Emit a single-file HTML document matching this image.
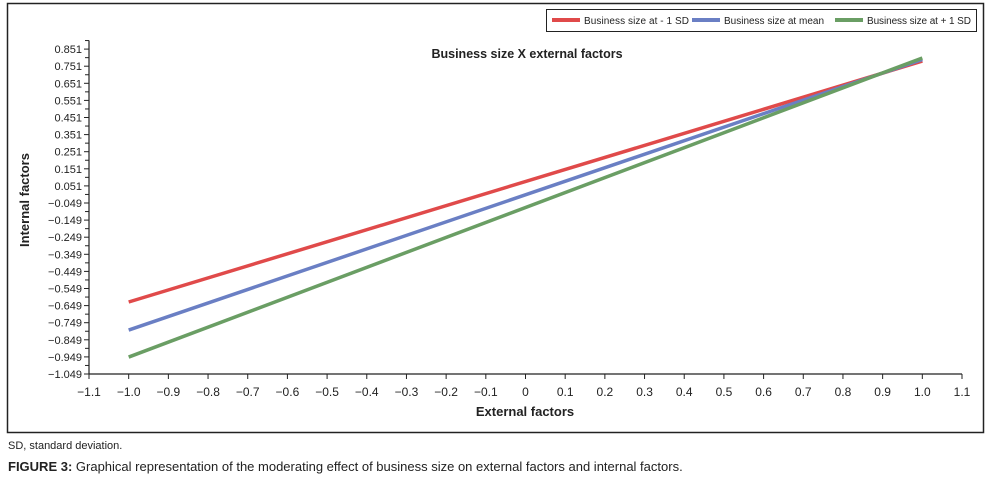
<!DOCTYPE html>
<html><head><meta charset="utf-8"><style>
body{margin:0;background:#fff;font-family:"Liberation Sans",sans-serif;}
svg text{font-family:"Liberation Sans",sans-serif;}
</style></head><body>
<svg width="990" height="488">
<rect x="7.5" y="3.5" width="976" height="429" fill="none" stroke="#222" stroke-width="1.5"/>
<g>
<rect x="546.5" y="9.5" width="430" height="22" fill="#fff" stroke="#222" stroke-width="1"/>
<line x1="552" y1="20" x2="580" y2="20" stroke="#e04a4a" stroke-width="4"/>
<text x="584" y="24" font-size="10" fill="#222" textLength="105">Business size at - 1 SD</text>
<line x1="692" y1="20" x2="720" y2="20" stroke="#6a7fc4" stroke-width="4"/>
<text x="724" y="24" font-size="10" fill="#222" textLength="100">Business size at mean</text>
<line x1="835" y1="20" x2="863" y2="20" stroke="#6a9e64" stroke-width="4"/>
<text x="867" y="24" font-size="10" fill="#222" textLength="104">Business size at + 1 SD</text>
</g>
<text x="527" y="58" font-size="12.5" font-weight="bold" text-anchor="middle" fill="#222">Business size X external factors</text>
<text transform="translate(29,200) rotate(-90)" font-size="13" font-weight="bold" text-anchor="middle" fill="#222">Internal factors</text>
<text x="525" y="416" font-size="13" font-weight="bold" text-anchor="middle" fill="#222">External factors</text>
<g id="axes"></g>
<g id="series"></g>
</svg>
<div style="position:absolute;left:8px;top:440px;font-size:11px;color:#222">SD, standard deviation.</div>
<div style="position:absolute;left:8px;top:459px;font-size:13px;color:#222;white-space:nowrap"><b>FIGURE 3:</b> Graphical representation of the moderating effect of business size on external factors and internal factors.</div>
<script>
const xTicks=[-1.1,-1.0,-0.9,-0.8,-0.7,-0.6,-0.5,-0.4,-0.3,-0.2,-0.1,0,0.1,0.2,0.3,0.4,0.5,0.6,0.7,0.8,0.9,1.0,1.1];
const yTicks=[0.851,0.751,0.651,0.551,0.451,0.351,0.251,0.151,0.051,-0.049,-0.149,-0.249,-0.349,-0.449,-0.549,-0.649,-0.749,-0.849,-0.949,-1.049];
const xVals=[-1.0,1.0];
const seriesMinus1SD=[-0.628,0.781];
const seriesMean=[-0.792,0.790];
const seriesPlus1SD=[-0.950,0.799];
const NS="http://www.w3.org/2000/svg";
const X0=89,X1=962,xmin=-1.1,xmax=1.1;
const Y0=374,yPer=171,ymin=-1.049;
const sx=v=>X0+(v-xmin)/(xmax-xmin)*(X1-X0);
const sy=v=>Y0-(v-ymin)*yPer;
function mk(t,a,p){const e=document.createElementNS(NS,t);for(const k in a)e.setAttribute(k,a[k]);p.appendChild(e);return e;}
const ax=document.getElementById('axes');
const ya=mk('line',{x1:X0,y1:sy(0.901),x2:X0,y2:Y0,stroke:'#222','stroke-width':1.2},ax);


const xa=mk('line',{x1:X0,y1:Y0,x2:X1,y2:Y0,stroke:'#222','stroke-width':1.2},ax);


yTicks.forEach(v=>{
 const y=sy(v);
 mk('line',{x1:X0-5,y1:y,x2:X0,y2:y,stroke:'#222'},ax);
 mk('line',{x1:X0-4,y1:y-yPer*0.05,x2:X0,y2:y-yPer*0.05,stroke:'#222'},ax);
 const t=mk('text',{x:X0-7,y:y+4,'font-size':11,'text-anchor':'end',fill:'#222'},ax);
 t.textContent=(v<0?'\u2212':'')+Math.abs(v).toFixed(3);
 
 
});
xTicks.forEach(v=>{
 const x=sx(v);
 mk('line',{x1:x,y1:Y0,x2:x,y2:Y0+5,stroke:'#222'},ax);
 const t=mk('text',{x:x,y:Y0+22,'font-size':12,'text-anchor':'middle',fill:'#222'},ax);
 t.textContent=(v<0?'\u2212':'')+(v===0?'0':Math.abs(v).toFixed(1));
 
 
});
const sg=document.getElementById('series');
[[seriesMinus1SD,'#e04a4a','line-minus-1sd'],[seriesMean,'#6a7fc4','line-mean'],[seriesPlus1SD,'#6a9e64','line-plus-1sd']].forEach(([d,c,n])=>{
 const pts=xVals.map((x,i)=>sx(x)+','+sy(d[i])).join(' ');
 const l=mk('polyline',{points:pts,fill:'none',stroke:c,'stroke-width':3.5},sg);
 
 
});
</script>
</body></html>
